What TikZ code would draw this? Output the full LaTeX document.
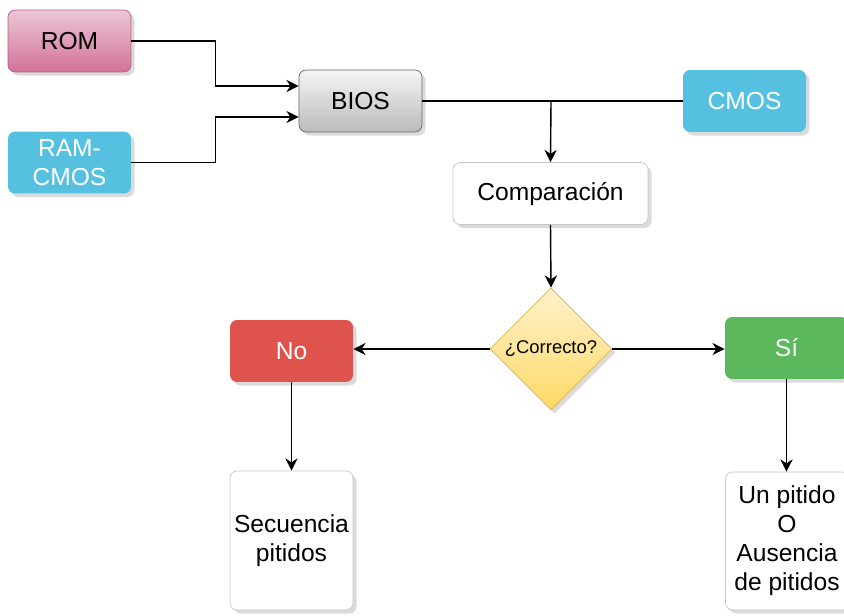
\documentclass[tikz,border=0pt]{standalone}
\usepackage{fontspec}
\setmainfont{Liberation Sans}
\usetikzlibrary{shadows}
\usetikzlibrary{positioning}
\usetikzlibrary{arrows.meta,shapes.geometric}

\definecolor{romtop}{RGB}{234,198,214}
\definecolor{rombot}{RGB}{213,114,154}
\definecolor{romline}{RGB}{176,96,132}
\definecolor{cmosblue}{RGB}{86,192,224}
\definecolor{nored}{RGB}{222,84,76}
\definecolor{sigreen}{RGB}{92,184,92}
\definecolor{dectop}{RGB}{255,242,204}
\definecolor{decbot}{RGB}{255,217,102}
\definecolor{decline}{RGB}{214,182,86}

\tikzset{
  box/.style={rectangle, rounded corners=4pt, minimum width=2.46cm, minimum height=1.24cm,
    align=center, font=\fontsize{14}{16.5}\selectfont, inner sep=1pt,
    drop shadow={shadow xshift=2pt, shadow yshift=-2pt, opacity=0.2, fill=black!70}},
  rombox/.style={box, draw=romline, top color=romtop, bottom color=rombot},
  biosbox/.style={box, draw=black!60, top color=black!4, bottom color=black!27},
  bluebox/.style={box, fill=cmosblue, text=white},
  whitebox/.style={box, draw=black!22, fill=white},
  decbox/.style={diamond, draw=decline, top color=dectop, bottom color=decbot, inner sep=0pt,
    minimum width=2.44cm, minimum height=2.44cm, font=\fontsize{10.5}{12}\selectfont,
    drop shadow={shadow xshift=2pt, shadow yshift=-2pt, opacity=0.2, fill=black!70}},
  arr/.style={-{Stealth[length=7pt,width=7pt]}, line width=0.8pt},
  lin/.style={line width=0.8pt}
}

\begin{document}
\begin{tikzpicture}[x=0.02cm, y=-0.02cm]

  \useasboundingbox (0,0) rectangle (844,615);

  %inputs
  \node[rombox] (rom) at (69.5,41) {ROM};
  \node[bluebox] (ram) at (69.5,162.5) {RAM-\\CMOS};
  \node[biosbox] (bios) at (360.5,101) {BIOS};
  \node[bluebox] (cmos) at (744.5,101) {CMOS};

  %check
  \node[whitebox, minimum width=3.9cm] (comp) at (550.5,193.5) {Comparación};
  \node[decbox] (dec) at (551,349) {¿Correcto?};

  %results
  \node[box, fill=nored, text=white] (no) at (291.5,351) {No};
  \node[box, fill=sigreen, text=white] (si) at (786.5,348) {Sí};
  \node[whitebox, minimum height=2.78cm] (seq) at (291.5,540.5) {Secuencia\\pitidos};
  \node[whitebox, minimum height=2.76cm] (uno) at (787,541) {Un pitido\\O\\Ausencia\\de pitidos};

  %connectors
  \draw[arr] (rom.east) -- ++(84,0) |- ([yshift=0.3cm]bios.west);
  \draw[arr] (ram.east) -- ++(84,0) |- ([yshift=-0.32cm]bios.west);
  \draw[lin] (bios.east) -- (cmos.west);
  \coordinate (jn) at (551,101);
  \draw[arr] (jn) -- (comp.north);
  \draw[arr] (comp.south) -- (dec.north);
  \draw[arr] (dec.west) -- (dec.west -| no.east);
  \draw[arr] (dec.east) -- (dec.east -| si.west);
  \draw[arr] (no.south) -- (no.south |- seq.north);
  \draw[arr] (si.south) -- (si.south |- uno.north);

\end{tikzpicture}
\end{document}
